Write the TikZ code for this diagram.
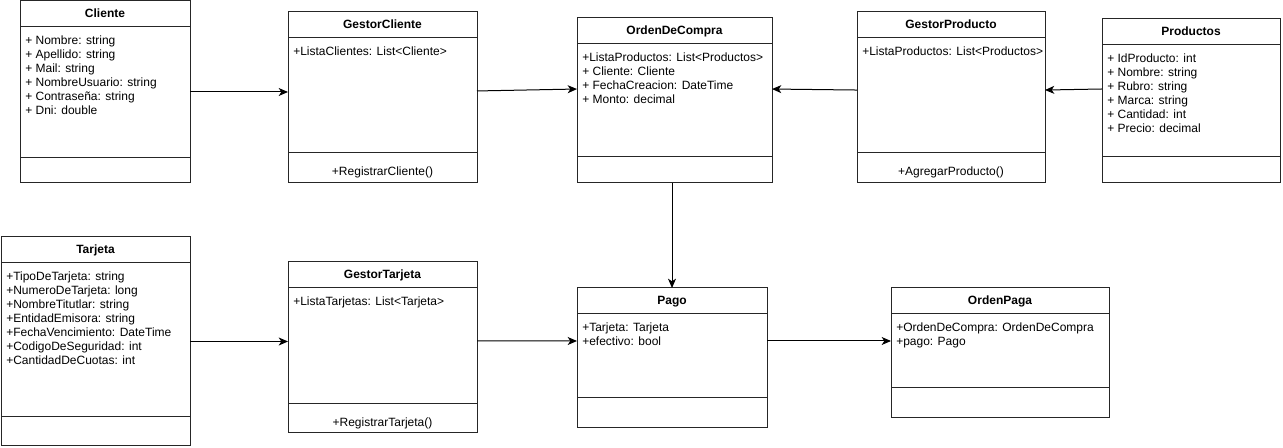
\documentclass[tikz,border=0pt]{standalone}
\usepackage{fontspec}
\setmainfont{Liberation Sans}
\usetikzlibrary{arrows.meta}
\tikzset{
	classbox/.style={draw=black!85, line width=0.75pt, inner sep=0pt, outer sep=0pt},
	classline/.style={draw=black!85, line width=0.75pt},
	classtext/.style={font=\fontsize{9}{10.5}\selectfont, inner sep=0pt},
	classtitle/.style={classtext, font=\fontsize{9}{10.5}\selectfont\bfseries},
	assoc/.style={line width=0.75pt, arrows={-Stealth[length=7pt, width=6pt, inset=2pt]}}
}
\newcommand{\umlclass}[9][]{%
	\pgfmathsetmacro{\clsw}{(#5-#3)*0.75}
	\pgfmathsetmacro{\clsh}{(#6-#4)*0.75}
	\node[classbox, minimum width=\clsw pt, minimum height=\clsh pt, anchor=north west] (#2) at (#3,#4) {};
	\draw[classline] (#3,#4+26) -- (#5,#4+26);
	\draw[classline] (#3,#7) -- (#5,#7);
	\node[classtitle, anchor=base] (#2title) at ({(#3+#5)/2},#4+17) {#8};
	\foreach \txt [count=\i] in {#9}
		\node[classtext, anchor=base west] (#2attr\i) at (#3+5,{#4+44+(\i-1)*14}) {\txt};
	\if\relax\detokenize{#1}\relax\else
		\node[classtext, anchor=base] (#2meth) at ({(#3+#5)/2},#7+23) {#1};
	\fi
}

\begin{document}
\begin{tikzpicture}[x=0.75pt, y=-0.75pt]
		\useasboundingbox (0,0) rectangle (1283,448);
		\umlclass{cliente}{20}{1}{190}{183}{158}{Cliente}{+ Nombre: string, + Apellido: string, + Mail: string, + NombreUsuario: string, + Contraseña: string, + Dni: double}
		\umlclass[+RegistrarCliente()]{gestorcliente}{288}{12}{477}{183}{153}{GestorCliente}{+ListaClientes: List<Cliente>}
		\umlclass{ordencompra}{577}{18}{772}{183}{157}{OrdenDeCompra}{+ListaProductos: List<Productos>, + Cliente: Cliente, + FechaCreacion: DateTime, + Monto: decimal}
		\umlclass[+AgregarProducto()]{gestorproducto}{857}{12}{1045}{183}{153}{GestorProducto}{+ListaProductos: List<Productos>}
		\umlclass{productos}{1102}{19}{1280}{183}{157}{Productos}{+ IdProducto: int, + Nombre: string, + Rubro: string, + Marca: string, + Cantidad: int, + Precio: decimal}
		\umlclass{tarjeta}{1}{237}{190}{446}{417}{Tarjeta}{+TipoDeTarjeta: string, +NumeroDeTarjeta: long, +NombreTitutlar: string, +EntidadEmisora: string, +FechaVencimiento: DateTime, +CodigoDeSeguridad: int, +CantidadDeCuotas: int}
		\umlclass[+RegistrarTarjeta()]{gestortarjeta}{288}{262}{477}{433}{404}{GestorTarjeta}{+ListaTarjetas: List<Tarjeta>}
		\umlclass{pago}{577}{288}{767}{428}{398}{Pago}{+Tarjeta: Tarjeta, +efectivo: bool}
		\umlclass{ordenpaga}{891}{288}{1109}{418}{388}{OrdenPaga}{+OrdenDeCompra: OrdenDeCompra, +pago: Pago}
		\draw[assoc] (cliente.east) -- (gestorcliente.west |- cliente.east);
		\draw[assoc] ([yshift=4.9pt]gestorcliente.east) -- ([yshift=8.6pt]ordencompra.west);
		\draw[assoc] ([yshift=5.6pt]gestorproducto.west) -- ([yshift=8.6pt]ordencompra.east);
		\draw[assoc] ([yshift=9pt]productos.west) -- ([yshift=5.6pt]gestorproducto.east);
		\draw[assoc] (pago.north |- ordencompra.south) -- (pago.north);
		\draw[assoc] (tarjeta.east) -- (gestortarjeta.west |- tarjeta.east);
		\draw[assoc] ([yshift=4.9pt]gestortarjeta.east) -- ([yshift=12.75pt]pago.west);
		\draw[assoc] ([yshift=12.75pt]pago.east) -- ([yshift=9pt]ordenpaga.west);
	\end{tikzpicture}
\end{document}
